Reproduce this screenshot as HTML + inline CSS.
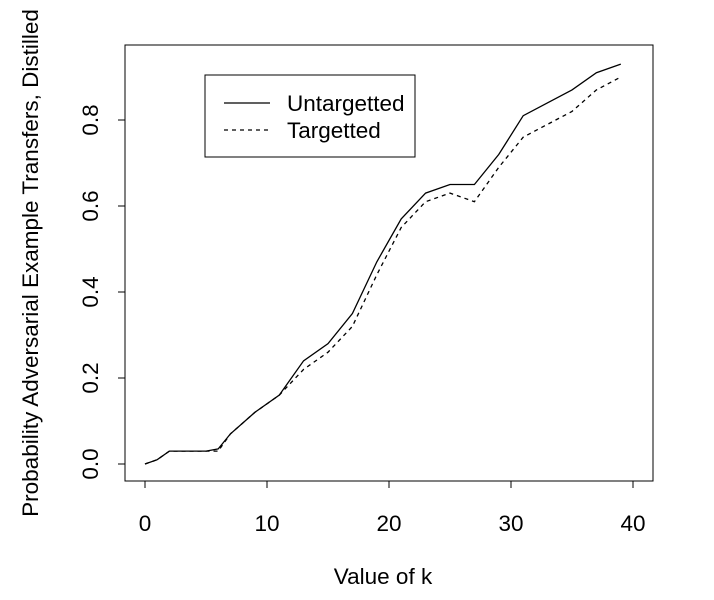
<!DOCTYPE html>
<html><head><meta charset="utf-8"><style>body{margin:0;background:#fff}svg{display:block;font-family:"Liberation Sans",sans-serif}</style></head>
<body>
<svg id="chart" width="714" height="600">
<rect x="125" y="45" width="528" height="436" fill="none" stroke="#000" stroke-width="1"/>
<g id="axes"></g>
<path id="s1" fill="none" stroke="#000" stroke-width="1.3"/>
<path id="s2" fill="none" stroke="#000" stroke-width="1.3" stroke-dasharray="4,4"/>
<g>
<rect x="205" y="75" width="210" height="82" fill="#fff" stroke="#000" stroke-width="1"/>
<line x1="224" y1="103" x2="270" y2="103" stroke="#000" stroke-width="1.3"/>
<text x="287" y="111" font-size="22.5">Untargetted</text>
<line x1="224" y1="130" x2="270" y2="130" stroke="#000" stroke-width="1.3" stroke-dasharray="4,4"/>
<text x="287" y="138" font-size="22.5">Targetted</text>
</g>
<text x="383" y="584" font-size="22.5" text-anchor="middle">Value of k</text>
<text transform="translate(38,263) rotate(-90)" font-size="22.5" text-anchor="middle">Probability Adversarial Example Transfers, Distilled</text>
</svg>
<script>
const kValues=[0,1,2,5,6,7,9,11,13,15,17,19,21,23,25,27,29,31,33,35,37,39];
const untargetted=[0,0.01,0.03,0.03,0.035,0.07,0.12,0.16,0.24,0.28,0.35,0.47,0.57,0.63,0.65,0.65,0.72,0.81,0.84,0.87,0.91,0.93];
const targetted=[0,0.01,0.03,0.03,0.03,0.07,0.12,0.16,0.22,0.26,0.32,0.44,0.55,0.61,0.63,0.61,0.69,0.76,0.79,0.82,0.87,0.90];
const xTicks=[0,10,20,30,40];
const yTicks=[0,0.2,0.4,0.6,0.8];
const yTickLabels=["0.0","0.2","0.4","0.6","0.8"];
const X=k=>145+k*12.2, Y=v=>464-v*430;
const ns="http://www.w3.org/2000/svg";
const ax=document.getElementById('axes');
function el(t,a,p){const e=document.createElementNS(ns,t);for(const k in a)e.setAttribute(k,a[k]);p.appendChild(e);return e;}
const xl=el('line',{x1:X(0),x2:X(40),y1:481,y2:481,stroke:'#000'},ax);


xTicks.forEach(t=>{
 const l=el('line',{x1:X(t),x2:X(t),y1:481,y2:488,stroke:'#000'},ax);
 
 
 const tx=el('text',{x:X(t),y:531,'font-size':22.5,'text-anchor':'middle'},ax);tx.textContent=t;
 
 
});
const yl=el('line',{x1:125,x2:125,y1:Y(0),y2:Y(0.8),stroke:'#000'},ax);


yTicks.forEach((t,i)=>{
 const l=el('line',{x1:118,x2:125,y1:Y(t),y2:Y(t),stroke:'#000'},ax);
 
 
 const tx=el('text',{transform:`translate(98,${Y(t)}) rotate(-90)`,'font-size':22.5,'text-anchor':'middle'},ax);tx.textContent=yTickLabels[i];
 
 
});
const pathOf=vals=>vals.map((v,i)=>(i?'L':'M')+X(kValues[i])+','+Y(v)).join('');
document.getElementById('s1').setAttribute('d',pathOf(untargetted));
document.getElementById('s2').setAttribute('d',pathOf(targetted));
</script>
</body></html>
